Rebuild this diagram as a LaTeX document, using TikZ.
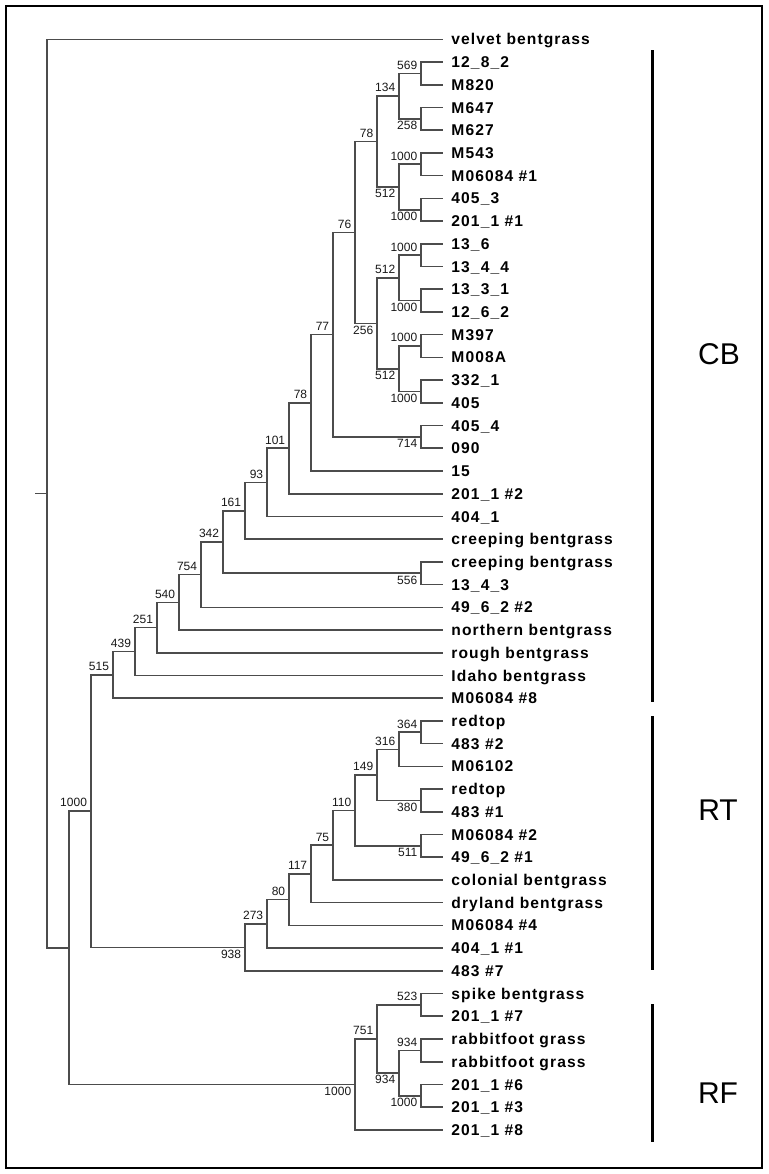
\documentclass[tikz,border=0pt]{standalone}
\usepackage{fontspec}
\setmainfont{Liberation Sans}
\newfontfamily\leaffont[LetterSpace=7]{Liberation Sans}
\def\Hx#1{443.06-22.02*(#1)}
\def\Vy#1{39.3+22.72*(#1)}
\tikzset{
  br/.style={draw=black!70, line width=0.8pt},
  leaf/.style={anchor=west, inner xsep=4pt, inner ysep=0pt, text height=5.6pt, text depth=0pt,
    font=\leaffont\bfseries\fontsize{7.8}{9}\selectfont},
  bsu/.style={anchor=south east, inner sep=1pt, xshift=-0.7pt, yshift=0.8pt, text=black!90,
    font=\fontsize{6}{7}\selectfont},
  bsd/.style={anchor=north east, inner sep=1pt, xshift=-0.7pt, text=black!90,
    font=\fontsize{6}{7}\selectfont},
  cladelbl/.style={inner sep=0pt, font=\fontsize{15}{18}\selectfont},
  cladebar/.style={draw=black, line width=1.6pt},
}
\begin{document}
\begin{tikzpicture}[x=0.5pt,y=-0.5pt]
\useasboundingbox (0,0) rectangle (768,1174);
\fill[white] (0,0) rectangle (768,1174);
\draw[line width=1pt] (6,6) rectangle (762,1168);

% leaves
\node[leaf] (l0) at ({\Hx{0}},{\Vy{0}}) {velvet bentgrass};
\node[leaf] (l1) at ({\Hx{0}},{\Vy{1}}) {12\_8\_2};
\node[leaf] (l2) at ({\Hx{0}},{\Vy{2}}) {M820};
\node[leaf] (l3) at ({\Hx{0}},{\Vy{3}}) {M647};
\node[leaf] (l4) at ({\Hx{0}},{\Vy{4}}) {M627};
\node[leaf] (l5) at ({\Hx{0}},{\Vy{5}}) {M543};
\node[leaf] (l6) at ({\Hx{0}},{\Vy{6}}) {M06084 \#1};
\node[leaf] (l7) at ({\Hx{0}},{\Vy{7}}) {405\_3};
\node[leaf] (l8) at ({\Hx{0}},{\Vy{8}}) {201\_1 \#1};
\node[leaf] (l9) at ({\Hx{0}},{\Vy{9}}) {13\_6};
\node[leaf] (l10) at ({\Hx{0}},{\Vy{10}}) {13\_4\_4};
\node[leaf] (l11) at ({\Hx{0}},{\Vy{11}}) {13\_3\_1};
\node[leaf] (l12) at ({\Hx{0}},{\Vy{12}}) {12\_6\_2};
\node[leaf] (l13) at ({\Hx{0}},{\Vy{13}}) {M397};
\node[leaf] (l14) at ({\Hx{0}},{\Vy{14}}) {M008A};
\node[leaf] (l15) at ({\Hx{0}},{\Vy{15}}) {332\_1};
\node[leaf] (l16) at ({\Hx{0}},{\Vy{16}}) {405};
\node[leaf] (l17) at ({\Hx{0}},{\Vy{17}}) {405\_4};
\node[leaf] (l18) at ({\Hx{0}},{\Vy{18}}) {090};
\node[leaf] (l19) at ({\Hx{0}},{\Vy{19}}) {15};
\node[leaf] (l20) at ({\Hx{0}},{\Vy{20}}) {201\_1 \#2};
\node[leaf] (l21) at ({\Hx{0}},{\Vy{21}}) {404\_1};
\node[leaf] (l22) at ({\Hx{0}},{\Vy{22}}) {creeping bentgrass};
\node[leaf] (l23) at ({\Hx{0}},{\Vy{23}}) {creeping bentgrass};
\node[leaf] (l24) at ({\Hx{0}},{\Vy{24}}) {13\_4\_3};
\node[leaf] (l25) at ({\Hx{0}},{\Vy{25}}) {49\_6\_2 \#2};
\node[leaf] (l26) at ({\Hx{0}},{\Vy{26}}) {northern bentgrass};
\node[leaf] (l27) at ({\Hx{0}},{\Vy{27}}) {rough bentgrass};
\node[leaf] (l28) at ({\Hx{0}},{\Vy{28}}) {Idaho bentgrass};
\node[leaf] (l29) at ({\Hx{0}},{\Vy{29}}) {M06084 \#8};
\node[leaf] (l30) at ({\Hx{0}},{\Vy{30}}) {redtop};
\node[leaf] (l31) at ({\Hx{0}},{\Vy{31}}) {483 \#2};
\node[leaf] (l32) at ({\Hx{0}},{\Vy{32}}) {M06102};
\node[leaf] (l33) at ({\Hx{0}},{\Vy{33}}) {redtop};
\node[leaf] (l34) at ({\Hx{0}},{\Vy{34}}) {483 \#1};
\node[leaf] (l35) at ({\Hx{0}},{\Vy{35}}) {M06084 \#2};
\node[leaf] (l36) at ({\Hx{0}},{\Vy{36}}) {49\_6\_2 \#1};
\node[leaf] (l37) at ({\Hx{0}},{\Vy{37}}) {colonial bentgrass};
\node[leaf] (l38) at ({\Hx{0}},{\Vy{38}}) {dryland bentgrass};
\node[leaf] (l39) at ({\Hx{0}},{\Vy{39}}) {M06084 \#4};
\node[leaf] (l40) at ({\Hx{0}},{\Vy{40}}) {404\_1 \#1};
\node[leaf] (l41) at ({\Hx{0}},{\Vy{41}}) {483 \#7};
\node[leaf] (l42) at ({\Hx{0}},{\Vy{42}}) {spike bentgrass};
\node[leaf] (l43) at ({\Hx{0}},{\Vy{43}}) {201\_1 \#7};
\node[leaf] (l44) at ({\Hx{0}},{\Vy{44}}) {rabbitfoot grass};
\node[leaf] (l45) at ({\Hx{0}},{\Vy{45}}) {rabbitfoot grass};
\node[leaf] (l46) at ({\Hx{0}},{\Vy{46}}) {201\_1 \#6};
\node[leaf] (l47) at ({\Hx{0}},{\Vy{47}}) {201\_1 \#3};
\node[leaf] (l48) at ({\Hx{0}},{\Vy{48}}) {201\_1 \#8};

% internal nodes: CB clade
\coordinate (U) at ({\Hx{1}},{\Vy{1.5}});
\coordinate (V) at ({\Hx{1}},{\Vy{3.5}});
\coordinate (S) at ({\Hx{2}},{\Vy{2.5}});
\coordinate (W) at ({\Hx{1}},{\Vy{5.5}});
\coordinate (X) at ({\Hx{1}},{\Vy{7.5}});
\coordinate (T) at ({\Hx{2}},{\Vy{6.5}});
\coordinate (Q) at ({\Hx{3}},{\Vy{4.5}});
\coordinate (AA) at ({\Hx{1}},{\Vy{9.5}});
\coordinate (AB) at ({\Hx{1}},{\Vy{11.5}});
\coordinate (Y) at ({\Hx{2}},{\Vy{10.5}});
\coordinate (AC) at ({\Hx{1}},{\Vy{13.5}});
\coordinate (AD) at ({\Hx{1}},{\Vy{15.5}});
\coordinate (Z) at ({\Hx{2}},{\Vy{14.5}});
\coordinate (R) at ({\Hx{3}},{\Vy{12.5}});
\coordinate (O) at ({\Hx{4}},{\Vy{8.5}});
\coordinate (P) at ({\Hx{1}},{\Vy{17.5}});
\coordinate (N) at ({\Hx{5}},{\Vy{13}});
\coordinate (M) at ({\Hx{6}},{\Vy{16}});
\coordinate (L) at ({\Hx{7}},{\Vy{18}});
\coordinate (K) at ({\Hx{8}},{\Vy{19.5}});
\coordinate (I) at ({\Hx{9}},{\Vy{20.75}});
\coordinate (J) at ({\Hx{1}},{\Vy{23.5}});
\coordinate (H) at ({\Hx{10}},{\Vy{22.125}});
\coordinate (G) at ({\Hx{11}},{\Vy{23.5625}});
\coordinate (F) at ({\Hx{12}},{\Vy{24.78125}});
\coordinate (E) at ({\Hx{13}},{\Vy{25.890625}});
\coordinate (D) at ({\Hx{14}},{\Vy{26.9453125}});
\coordinate (C) at ({\Hx{15}},{\Vy{27.97265625}});
% RT clade
\coordinate (a364) at ({\Hx{1}},{\Vy{30.5}});
\coordinate (a316) at ({\Hx{2}},{\Vy{31.25}});
\coordinate (a380) at ({\Hx{1}},{\Vy{33.5}});
\coordinate (a149) at ({\Hx{3}},{\Vy{32.375}});
\coordinate (a511) at ({\Hx{1}},{\Vy{35.5}});
\coordinate (a110) at ({\Hx{4}},{\Vy{33.9375}});
\coordinate (a75) at ({\Hx{5}},{\Vy{35.46875}});
\coordinate (a117) at ({\Hx{6}},{\Vy{36.734375}});
\coordinate (a80) at ({\Hx{7}},{\Vy{37.8671875}});
\coordinate (a273) at ({\Hx{8}},{\Vy{38.93359375}});
\coordinate (RT) at ({\Hx{9}},{\Vy{39.966796875}});
\coordinate (B) at ({\Hx{16}},{\Vy{33.9697265625}});
% RF clade
\coordinate (b523) at ({\Hx{1}},{\Vy{42.5}});
\coordinate (b934u) at ({\Hx{1}},{\Vy{44.5}});
\coordinate (b1000) at ({\Hx{1}},{\Vy{46.5}});
\coordinate (b934l) at ({\Hx{2}},{\Vy{45.5}});
\coordinate (b751) at ({\Hx{3}},{\Vy{44}});
\coordinate (RF) at ({\Hx{4}},{\Vy{46}});
\coordinate (A) at ({\Hx{17}},{\Vy{39.98486328125}});
\coordinate (root) at ({\Hx{18}},{\Vy{19.992431640625}});
\coordinate (stub) at (35,{\Vy{19.992431640625}});

% branches
\draw[br] (stub) -- (root);
\draw[br] (root) |- (l0.west) (root) |- (A);
\draw[br] (A) |- (B) (A) |- (RF);
\draw[br] (B) |- (C) (B) |- (RT);
\draw[br] (C) |- (D) (C) |- (l29.west);
\draw[br] (D) |- (E) (D) |- (l28.west);
\draw[br] (E) |- (F) (E) |- (l27.west);
\draw[br] (F) |- (G) (F) |- (l26.west);
\draw[br] (G) |- (H) (G) |- (l25.west);
\draw[br] (H) |- (I) (H) |- (J);
\draw[br] (J) |- (l23.west) (J) |- (l24.west);
\draw[br] (I) |- (K) (I) |- (l22.west);
\draw[br] (K) |- (L) (K) |- (l21.west);
\draw[br] (L) |- (M) (L) |- (l20.west);
\draw[br] (M) |- (N) (M) |- (l19.west);
\draw[br] (N) |- (O) (N) |- (P);
\draw[br] (P) |- (l17.west) (P) |- (l18.west);
\draw[br] (O) |- (Q) (O) |- (R);
\draw[br] (Q) |- (S) (Q) |- (T);
\draw[br] (S) |- (U) (S) |- (V);
\draw[br] (U) |- (l1.west) (U) |- (l2.west);
\draw[br] (V) |- (l3.west) (V) |- (l4.west);
\draw[br] (T) |- (W) (T) |- (X);
\draw[br] (W) |- (l5.west) (W) |- (l6.west);
\draw[br] (X) |- (l7.west) (X) |- (l8.west);
\draw[br] (R) |- (Y) (R) |- (Z);
\draw[br] (Y) |- (AA) (Y) |- (AB);
\draw[br] (AA) |- (l9.west) (AA) |- (l10.west);
\draw[br] (AB) |- (l11.west) (AB) |- (l12.west);
\draw[br] (Z) |- (AC) (Z) |- (AD);
\draw[br] (AC) |- (l13.west) (AC) |- (l14.west);
\draw[br] (AD) |- (l15.west) (AD) |- (l16.west);
\draw[br] (RT) |- (a273) (RT) |- (l41.west);
\draw[br] (a273) |- (a80) (a273) |- (l40.west);
\draw[br] (a80) |- (a117) (a80) |- (l39.west);
\draw[br] (a117) |- (a75) (a117) |- (l38.west);
\draw[br] (a75) |- (a110) (a75) |- (l37.west);
\draw[br] (a110) |- (a149) (a110) |- (a511);
\draw[br] (a511) |- (l35.west) (a511) |- (l36.west);
\draw[br] (a149) |- (a316) (a149) |- (a380);
\draw[br] (a380) |- (l33.west) (a380) |- (l34.west);
\draw[br] (a316) |- (a364) (a316) |- (l32.west);
\draw[br] (a364) |- (l30.west) (a364) |- (l31.west);
\draw[br] (RF) |- (b751) (RF) |- (l48.west);
\draw[br] (b751) |- (b523) (b751) |- (b934l);
\draw[br] (b523) |- (l42.west) (b523) |- (l43.west);
\draw[br] (b934l) |- (b934u) (b934l) |- (b1000);
\draw[br] (b934u) |- (l44.west) (b934u) |- (l45.west);
\draw[br] (b1000) |- (l46.west) (b1000) |- (l47.west);

% bootstrap values
\node[bsu] (tU) at (U) {569};
\node[bsd] (tV) at (V) {258};
\node[bsu] (tS) at (S) {134};
\node[bsu] (tW) at (W) {1000};
\node[bsd] (tX) at (X) {1000};
\node[bsd] (tT) at (T) {512};
\node[bsu] (tQ) at (Q) {78};
\node[bsu] (tAA) at (AA) {1000};
\node[bsd] (tAB) at (AB) {1000};
\node[bsu] (tY) at (Y) {512};
\node[bsu] (tAC) at (AC) {1000};
\node[bsd] (tAD) at (AD) {1000};
\node[bsd] (tZ) at (Z) {512};
\node[bsd] (tR) at (R) {256};
\node[bsu] (tO) at (O) {76};
\node[bsd] (tP) at (P) {714};
\node[bsu] (tN) at (N) {77};
\node[bsu] (tM) at (M) {78};
\node[bsu] (tL) at (L) {101};
\node[bsu] (tK) at (K) {93};
\node[bsu] (tI) at (I) {161};
\node[bsd] (tJ) at (J) {556};
\node[bsu] (tH) at (H) {342};
\node[bsu] (tG) at (G) {754};
\node[bsu] (tF) at (F) {540};
\node[bsu] (tE) at (E) {251};
\node[bsu] (tD) at (D) {439};
\node[bsu] (tC) at (C) {515};
\node[bsu] (tB) at (B) {1000};
\node[bsd] (tRT) at (RT) {938};
\node[bsu] (t273) at (a273) {273};
\node[bsu] (t80) at (a80) {80};
\node[bsu] (t117) at (a117) {117};
\node[bsu] (t75) at (a75) {75};
\node[bsu] (t110) at (a110) {110};
\node[bsu] (t149) at (a149) {149};
\node[bsu] (t316) at (a316) {316};
\node[bsu] (t364) at (a364) {364};
\node[bsd] (t380) at (a380) {380};
\node[bsd] (t511) at (a511) {511};
\node[bsd] (tRF) at (RF) {1000};
\node[bsu] (t751) at (b751) {751};
\node[bsu] (t523) at (b523) {523};
\node[bsd] (t934l) at (b934l) {934};
\node[bsu] (t934u) at (b934u) {934};
\node[bsd] (t1000) at (b1000) {1000};

% clade bars and labels
\coordinate (cbtop) at (652.7,50);
\coordinate (cbbot) at (652.7,702);
\coordinate (rttop) at (652.7,716);
\coordinate (rtbot) at (652.7,970);
\coordinate (rftop) at (652.7,1004);
\coordinate (rfbot) at (652.7,1142);
\draw[cladebar] (cbtop) -- (cbbot);
\draw[cladebar] (rttop) -- (rtbot);
\draw[cladebar] (rftop) -- (rfbot);
\node[cladelbl] (cb) at (719,354) {CB};
\node[cladelbl] (rt) at (718,810) {RT};
\node[cladelbl] (rf) at (718,1093) {RF};
\end{tikzpicture}
\end{document}
